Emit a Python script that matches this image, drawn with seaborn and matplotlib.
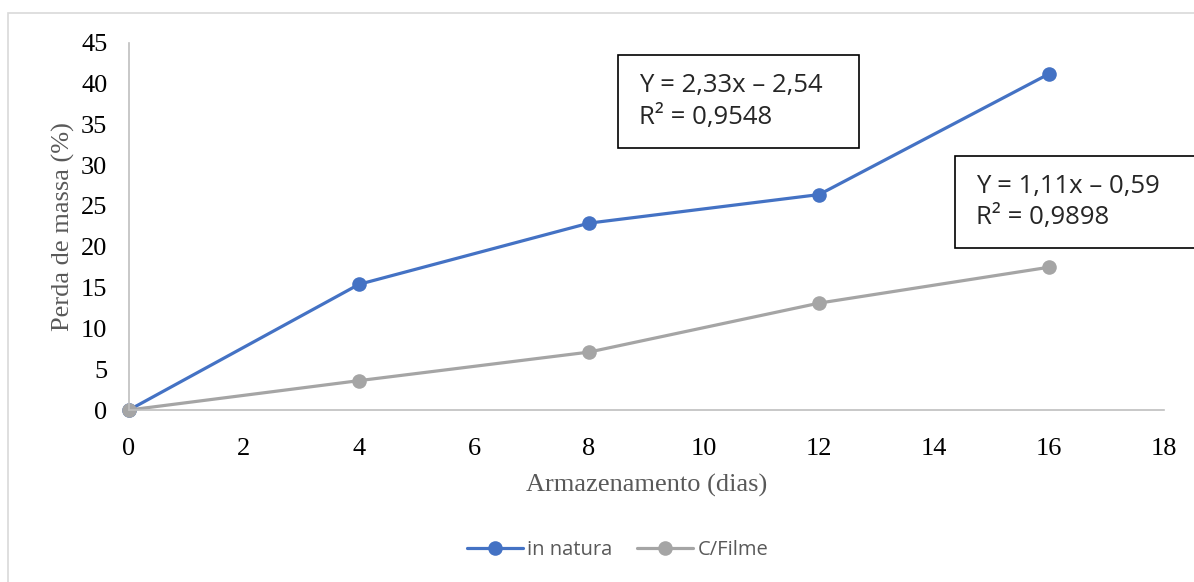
import pandas as pd
import numpy as np
import seaborn as sns
import matplotlib.pyplot as plt
from matplotlib.patches import Rectangle

dias = [0, 4, 8, 12, 16]
in_natura = [0, 15.4, 22.9, 26.4, 41.2]
c_filme = [0, 3.6, 7.1, 13.1, 17.5]
series = ['in natura', 'C/Filme']
eq_labels = ['Y = 2,33x – 2,54\nR² = 0,9548', 'Y = 1,11x – 0,59\nR² = 0,9898']

df = pd.DataFrame({'Dias': dias * 2,
                   'Perda': in_natura + c_filme,
                   'Serie': [series[0]] * len(dias) + [series[1]] * len(dias)})

palette = ['#4472C4', '#A5A5A5']
sns.set_style('white')
plt.rcParams['font.family'] = ['Liberation Serif', 'DejaVu Sans']

fig = plt.figure(figsize=(11.94, 5.82), dpi=100)
ax = fig.add_axes([0.108, 0.2955, 0.867, 0.631])
sns.lineplot(x='Dias', y='Perda', hue='Serie', data=df, palette=palette,
             marker='o', markersize=10.5, markeredgewidth=0, linewidth=2.3, ax=ax)

ax.set_xlim(0, 18)
ax.set_ylim(0, 45)
ax.set_xticks(range(0, 19, 2))
ax.set_yticks(range(0, 46, 5))
ax.tick_params(axis='both', labelsize=19, length=0, colors='black')
ax.tick_params(axis='x', pad=20)
ax.tick_params(axis='y', pad=15.5)
for sp in ['top', 'right']:
    ax.spines[sp].set_visible(False)
for sp in ['left', 'bottom']:
    ax.spines[sp].set_color('#BFBFBF')
    ax.spines[sp].set_linewidth(1.2)
for ln in ax.lines:
    ln.set_clip_on(False)
ax.set_xlabel('Armazenamento (dias)', fontsize=19, color='#595959', labelpad=10.5)
ax.set_ylabel('Perda de massa (%)', fontsize=19, color='#595959', labelpad=4)

leg = ax.legend(loc='center', bbox_to_anchor=(0.472, -0.381), ncol=2, frameon=False,
                prop={'family': 'Open Sans', 'size': 14.5}, handlelength=2.8,
                columnspacing=1.2, handletextpad=0.2)
for t in leg.get_texts():
    t.set_color('#595959')

# equation boxes
boxes = [(618, 55, 241, 93), (955, 156, 250, 92)]
W, H = 1194, 582
for (x0, y0, w, h), lab in zip(boxes, eq_labels):
    fig.patches.append(Rectangle((x0 / W, 1 - (y0 + h) / H), w / W, h / H,
                                 transform=fig.transFigure, fill=True, facecolor='white',
                                 edgecolor='black', linewidth=1.2, zorder=5))
    fig.text((x0 + 21) / W, 1 - (y0 + h / 2) / H, lab, ha='left', va='center',
             fontsize=18.5, family='Open Sans', linespacing=1.35, zorder=6)

# outer chart frame
fig.patches.append(Rectangle((8 / W, -0.1), 1.1, 1.1 - 13 / H, transform=fig.transFigure,
                             fill=False, edgecolor='#D9D9D9', linewidth=1.2))

fig.savefig('out.png', dpi=100)
